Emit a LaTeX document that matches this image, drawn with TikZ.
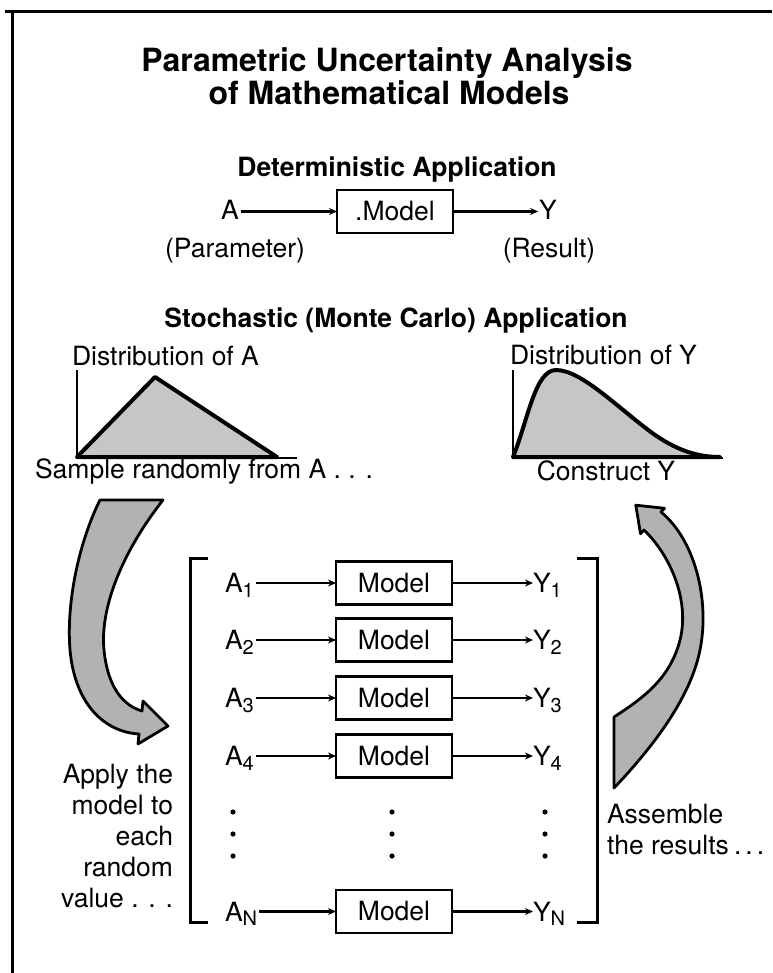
\documentclass[tikz,border=0pt]{standalone}
\usepackage{fontspec}
\setmainfont{TeX Gyre Heros}
\usetikzlibrary{arrows.meta}
\newcommand{\sbs}[1]{\raisebox{-0.18em}{\fontsize{20}{20}\selectfont #1}}
\begin{document}
\begin{tikzpicture}[x=1pt,y=-1pt,
  every node/.style={inner sep=0pt, outer sep=0pt, font=\fontsize{26.5}{31}\selectfont},
  head/.style={font=\bfseries\fontsize{26.5}{31}\selectfont},
  ttl/.style={font=\bfseries\fontsize{32}{36}\selectfont},
  framel/.style={line width=3pt},
  box/.style={draw, line width=2.8pt, minimum width=116pt, minimum height=43pt},
  arr/.style={line width=2.5pt, -{Stealth[length=8pt,width=7pt]}},
  bigarrow/.style={fill=gray!60, draw=black, line width=2.8pt, line join=round},
  dist/.style={fill=gray!45, draw=black, line width=4pt, line join=round},
  axis/.style={line width=2.5pt},
  brk/.style={line width=3pt}]
\useasboundingbox (0,0) rectangle (772,973);
% frame
\draw[framel] (5,12) -- (772,12);
\draw[framel] (12,10.5) -- (12,973);
% titles
\node[ttl, anchor=base] (t1) at (387,72) {Parametric Uncertainty Analysis};
\node[ttl, anchor=base] (t2) at (389,105) {of Mathematical Models};
\node[head, anchor=base] (det) at (397,177) {Deterministic Application};
% deterministic row
\node[box] (m0) at (395,211.5) {.Model};
\node[anchor=base] (a0) at (230,220) {A};
\node[anchor=base] (y0) at (548,220) {Y};
\draw[arr] ([xshift=2pt]a0.east |- m0.west) -- (m0.west);
\draw[arr] (m0.east) -- ([xshift=-1pt]y0.west |- m0.east);
\node[anchor=base] (par) at (235,258) {(Parameter)};
\node[anchor=base] (res) at (549,258) {(Result)};
% stochastic
\node[head, anchor=base] (sto) at (396,327) {Stochastic (Monte Carlo) Application};
\node[anchor=base west] (da) at (72,365) {Distribution of A};
\node[anchor=base west] (dy) at (510,364) {Distribution of Y};
\draw[axis] (77,370) -- (77,458) -- (297,458);
\filldraw[dist] (77,457) -- (155,377) -- (277,457) -- cycle;
\draw[axis] (513,370) -- (513,458) -- (723,458);
\filldraw[dist] (513,457) .. controls (528,420) and (535,370) .. (556,370)
  .. controls (582,370) and (620,410) .. (655,435)
  .. controls (680,452) and (700,457) .. (720,457) -- cycle;
\node[anchor=base west] (samp) at (35,478) {Sample randomly from A . . .};
\node[anchor=base] (cons) at (606,480) {Construct Y};
% big curved arrows
\filldraw[bigarrow] (100,500) -- (163,500)
  .. controls (120,555) and (100,610) .. (104,650)
  .. controls (108,690) and (125,706) .. (142,711)
  -- (143,701) -- (168,726) -- (138,744) -- (139,734)
  .. controls (105,732) and (75,705) .. (70,650)
  .. controls (66,600) and (80,540) .. (100,500) -- cycle;
\filldraw[bigarrow] (614,717) .. controls (640,700) and (670,680) .. (680,640)
  .. controls (690,600) and (670,555) .. (644,530)
  -- (640.5,533.7) -- (635.8,505.2) -- (664.5,508.3) -- (661,512)
  .. controls (695,540) and (710,600) .. (700,650)
  .. controls (690,700) and (650,750) .. (614,788) -- cycle;
% brackets
\draw[brk] (208,558) -- (190,558) -- (190,922) -- (208,922);
\draw[brk] (577,558) -- (597,558) -- (597,922) -- (577,922);
% rows
\foreach \n/\yy/\s in {1/583/1, 2/640/2, 3/698/3, 4/756/4, N/911.5/N}{
  \node[box] (m\n) at (394,\yy) {Model};
  \node[anchor=base west] (a\n) at (225,\yy+9.5) {A\sbs{\s}};
  \node[anchor=base west] (y\n) at (533,\yy+9.5) {Y\sbs{\s}};
  \draw[arr] ([xshift=2pt]a\n.east |- m\n.west) -- (m\n.west);
  \draw[arr] (m\n.east) -- (y\n.west |- m\n.east);
}
\foreach \xx in {233,392,545}{
  \foreach \yy in {812,834,856}{
    \fill (\xx,\yy) circle (2.6);
  }
}
% side texts
\node[anchor=north east, align=right] (apply) at (173,764) {Apply the\\model to\\each\\random\\value . . .};
\node[anchor=north west, align=left] (assem) at (607,804) {Assemble\\the results\hspace{0.2em}.\hspace{0.15em}.\hspace{0.15em}.};
\end{tikzpicture}
\end{document}
